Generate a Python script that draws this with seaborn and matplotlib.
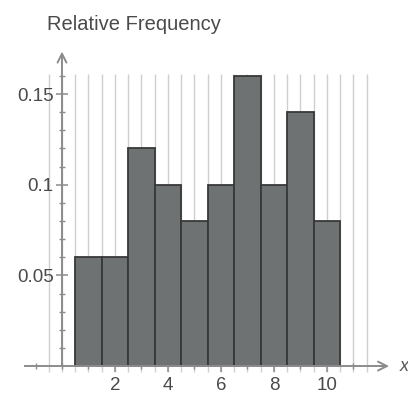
import numpy as np
import matplotlib
matplotlib.use("Agg")
import matplotlib.pyplot as plt
import seaborn as sns
from matplotlib.ticker import FixedLocator, FixedFormatter

# Relative frequency of each outcome
outcomes = [1, 2, 3, 4, 5, 6, 7, 8, 9, 10]
rel_freq = [0.06, 0.06, 0.12, 0.10, 0.08, 0.10, 0.16, 0.10, 0.14, 0.08]

y_ticks = [0.05, 0.1, 0.15]
y_tick_labels = ["0.05", "0.1", "0.15"]
x_ticks = [2, 4, 6, 8, 10]

sns.set_theme(style="white")
plt.rcParams["font.family"] = ["Liberation Sans", "DejaVu Sans"]

fig = plt.figure(figsize=(4.08, 3.94), dpi=100)
fig.patch.set_facecolor("white")
ax = fig.add_axes([0, 0, 1, 1])
ax.set_facecolor("white")

ax.set_xlim(-2.34, 13.06)
ax.set_ylim(-0.0154, 0.2019)

# light vertical grid behind the bars
ax.vlines(np.arange(-0.5, 11.6, 0.5), -0.003, 0.161, colors="#cfcfcf", linewidth=1.0, zorder=0)

sns.histplot(x=outcomes, weights=rel_freq, discrete=True, ax=ax,
             color="#6e7272", edgecolor="#383838", linewidth=1.3, alpha=1.0, zorder=2)

# axes through the origin
for s in ["top", "right"]:
    ax.spines[s].set_visible(False)
ax.spines["left"].set_position(("data", 0))
ax.spines["bottom"].set_position(("data", 0))
ax.spines["left"].set_bounds(0, 0.168)
ax.spines["bottom"].set_bounds(-1.4, 12.2)
for s in ["left", "bottom"]:
    ax.spines[s].set_color("#8c8c8c")
    ax.spines[s].set_linewidth(1.4)
    ax.spines[s].set_zorder(3)

ax.annotate("", xy=(0, 0.175), xytext=(0, 0.165),
            arrowprops=dict(arrowstyle="->", color="#8c8c8c", lw=1.4, mutation_scale=16))
ax.annotate("", xy=(12.45, 0), xytext=(11.9, 0),
            arrowprops=dict(arrowstyle="->", color="#8c8c8c", lw=1.4, mutation_scale=16))
ax.text(12.75, 0, "x", fontsize=13, color="#555555", va="center", ha="left", style="italic")

ax.yaxis.set_major_locator(FixedLocator(y_ticks))
ax.yaxis.set_major_formatter(FixedFormatter(y_tick_labels))
ax.yaxis.set_minor_locator(FixedLocator(np.arange(0.01, 0.165, 0.01)))
ax.xaxis.set_major_locator(FixedLocator(x_ticks))
ax.xaxis.set_minor_locator(FixedLocator(np.arange(-1, 12, 1)))

ax.tick_params(axis="both", which="major", direction="inout", length=8, width=1.1,
               colors="#8c8c8c", labelcolor="#4a4a4a", labelsize=13.5)
ax.tick_params(axis="both", which="minor", direction="inout", length=5, width=1.0,
               colors="#8c8c8c")
ax.tick_params(axis="y", which="both", left=True, pad=2)
ax.tick_params(axis="x", which="both", bottom=True, pad=4)

ax.set_xlabel("")
ax.set_ylabel("")
ax.text(-0.55, 0.1885, "Relative Frequency", fontsize=14.5, color="#4a4a4a",
        ha="left", va="center")

fig.savefig("out.png", dpi=100, facecolor="white")
